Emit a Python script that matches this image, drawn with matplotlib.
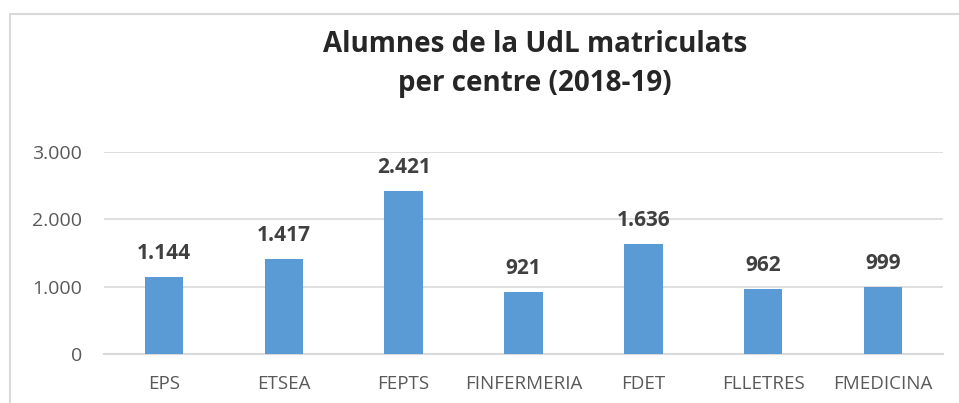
import matplotlib.pyplot as plt
import matplotlib.patches as mpatches

centres = ["EPS", "ETSEA", "FEPTS", "FINFERMERIA", "FDET", "FLLETRES", "FMEDICINA"]
alumnes = [1144, 1417, 2421, 921, 1636, 962, 999]
yticks = [0, 1000, 2000, 3000]

def fmt(v):
	# punt com a separador de milers
	return "{:,}".format(v).replace(",", ".")

fig = plt.figure(figsize=(9.59, 4.03), dpi=100)
W, H = 959.0, 403.0

# vora del gràfic
fig.patches.append(mpatches.Rectangle((10 / W, -0.1), 1.2, (H - 14) / H + 0.1,
	transform=fig.transFigure, fill=False, edgecolor="#d9d9d9", linewidth=1.5))

ax = fig.add_axes([104 / W, (H - 354) / H, (943 - 104) / W, (354 - 152) / H * 1.0])

x = list(range(len(centres)))
ax.bar(x, alumnes, width=0.32, color="#5b9bd5", zorder=3)

for xi, v in zip(x, alumnes):
	ax.annotate(fmt(v), (xi, v), xytext=(0, 13), textcoords="offset points",
		ha="center", va="baseline", fontsize=15, fontweight="bold", color="#404040",
		family="Open Sans")

ax.set_xlim(-0.5, len(centres) - 0.5)
ax.set_ylim(0, 3000)
ax.set_yticks(yticks)
ax.set_yticklabels([fmt(t) for t in yticks], fontsize=14, color="#595959", family="Open Sans")
ax.set_xticks(x)
ax.set_xticklabels(centres, fontsize=13.5, color="#595959", family="Open Sans")
ax.tick_params(axis="both", length=0)
ax.tick_params(axis="y", pad=16)
ax.tick_params(axis="x", pad=15)

ax.grid(axis="y", color="#d9d9d9", linewidth=1.2, zorder=0)
for s in ["top", "right", "left"]:
	ax.spines[s].set_visible(False)
ax.spines["bottom"].set_color("#d9d9d9")
ax.spines["bottom"].set_linewidth(1.5)

fig.text(535 / W, (H - 64) / H, "Alumnes de la UdL matriculats\nper centre (2018-19)",
	ha="center", va="center", fontsize=20, fontweight="bold", color="#262626",
	family="Open Sans", linespacing=1.5)

fig.savefig("out.png", dpi=100)
